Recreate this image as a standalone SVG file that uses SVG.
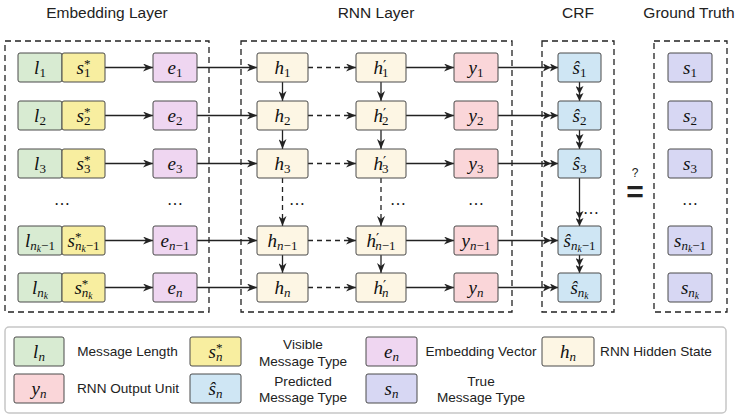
<svg xmlns="http://www.w3.org/2000/svg" width="738" height="415" viewBox="0 0 738 415">
  <style>
    .title { font-family: "Liberation Sans", Arial, sans-serif; font-size: 15.5px; fill: #222; text-anchor: middle; }
    .lg { font-family: "Liberation Sans", Arial, sans-serif; font-size: 13.6px; fill: #222; text-anchor: middle; }
    .frame { fill: none; stroke: #222; stroke-width: 1.3; stroke-dasharray: 6 4; }
    .box { stroke: #4a4a4a; stroke-width: 1; }
    .g { fill: #d8ebd2; } .yl { fill: #f8eea0; } .pu { fill: #efd6f1; } .cr { fill: #fdf6e4; }
    .pk { fill: #fad6d9; } .bl { fill: #cfe6f4; } .lv { fill: #d7d7f3; }
    .m { font-family: "Liberation Serif", "Times New Roman", serif; font-style: italic; font-size: 19px; fill: #111; text-anchor: middle; }
    .s { font-style: normal; font-size: 13px; }
    .si { font-style: italic; font-size: 13px; }
    .ss { font-style: italic; font-size: 9.5px; }
    .pr { font-family: "DejaVu Serif", serif; font-style: normal; font-size: 14px; }
    .dots { font-family: "Liberation Serif", serif; font-size: 16px; fill: #111; text-anchor: middle; }
    .ln { stroke: #222; stroke-width: 1.3; fill: none; }
    .dash { stroke-dasharray: 5 4; }
  </style>
  <defs>
    <marker id="ah" viewBox="0 0 10 8" refX="10" refY="4" markerWidth="10" markerHeight="8" markerUnits="userSpaceOnUse" orient="auto">
      <path d="M0,0 L10,4 L0,8 L3,4 Z" fill="#222"/>
    </marker>
    <marker id="ah2" viewBox="0 0 15 8" refX="15" refY="4" markerWidth="15" markerHeight="8" markerUnits="userSpaceOnUse" orient="auto">
      <path d="M0,0 L8,4 L0,8 L2,4 Z M7,0 L15,4 L7,8 L9,4 Z" fill="#222"/>
    </marker>
  </defs>

  <rect width="738" height="415" fill="#fff"/>

  <!-- column titles -->
  <text class="title" x="107" y="18">Embedding Layer</text>
  <text class="title" x="376" y="18">RNN Layer</text>
  <text class="title" x="578" y="18">CRF</text>
  <text class="title" x="689" y="18">Ground Truth</text>

  <!-- layer frames -->
  <g id="frames">
    <rect class="frame" x="5" y="41" width="204" height="271"/>
    <rect class="frame" x="241" y="41" width="271" height="271"/>
    <rect class="frame" x="542" y="41" width="72" height="271"/>
    <rect class="frame" x="654" y="41" width="73" height="271"/>
  </g>

  <!-- connectors -->
  <g id="connectors">
    <!-- horizontal flow per row -->
    <g>
      <line class="ln" x1="105" y1="67.5" x2="153" y2="67.5" marker-end="url(#ah)"/>
      <line class="ln" x1="105" y1="115.5" x2="153" y2="115.5" marker-end="url(#ah)"/>
      <line class="ln" x1="105" y1="163.5" x2="153" y2="163.5" marker-end="url(#ah)"/>
      <line class="ln" x1="105" y1="240.5" x2="153" y2="240.5" marker-end="url(#ah)"/>
      <line class="ln" x1="105" y1="287.5" x2="153" y2="287.5" marker-end="url(#ah)"/>

      <line class="ln" x1="197" y1="67.5" x2="257" y2="67.5" marker-end="url(#ah)"/>
      <line class="ln" x1="197" y1="115.5" x2="257" y2="115.5" marker-end="url(#ah)"/>
      <line class="ln" x1="197" y1="163.5" x2="257" y2="163.5" marker-end="url(#ah)"/>
      <line class="ln" x1="197" y1="240.5" x2="257" y2="240.5" marker-end="url(#ah)"/>
      <line class="ln" x1="197" y1="287.5" x2="257" y2="287.5" marker-end="url(#ah)"/>

      <line class="ln dash" x1="308" y1="67.5" x2="356" y2="67.5" marker-end="url(#ah)"/>
      <line class="ln dash" x1="308" y1="115.5" x2="356" y2="115.5" marker-end="url(#ah)"/>
      <line class="ln dash" x1="308" y1="163.5" x2="356" y2="163.5" marker-end="url(#ah)"/>
      <line class="ln dash" x1="308" y1="240.5" x2="356" y2="240.5" marker-end="url(#ah)"/>
      <line class="ln dash" x1="308" y1="287.5" x2="356" y2="287.5" marker-end="url(#ah)"/>

      <line class="ln" x1="406" y1="67.5" x2="454" y2="67.5" marker-end="url(#ah)"/>
      <line class="ln" x1="406" y1="115.5" x2="454" y2="115.5" marker-end="url(#ah)"/>
      <line class="ln" x1="406" y1="163.5" x2="454" y2="163.5" marker-end="url(#ah)"/>
      <line class="ln" x1="406" y1="240.5" x2="454" y2="240.5" marker-end="url(#ah)"/>
      <line class="ln" x1="406" y1="287.5" x2="454" y2="287.5" marker-end="url(#ah)"/>

      <line class="ln" x1="498" y1="67.5" x2="558" y2="67.5" marker-end="url(#ah2)"/>
      <line class="ln" x1="498" y1="115.5" x2="558" y2="115.5" marker-end="url(#ah2)"/>
      <line class="ln" x1="498" y1="163.5" x2="558" y2="163.5" marker-end="url(#ah2)"/>
      <line class="ln" x1="498" y1="240.5" x2="558" y2="240.5" marker-end="url(#ah2)"/>
      <line class="ln" x1="498" y1="287.5" x2="558" y2="287.5" marker-end="url(#ah2)"/>
    </g>
    <!-- vertical recurrences -->
    <g>
      <line class="ln" x1="282.5" y1="82" x2="282.5" y2="101" marker-end="url(#ah)"/>
      <line class="ln" x1="282.5" y1="130" x2="282.5" y2="149" marker-end="url(#ah)"/>
      <line class="ln dash" x1="282.5" y1="178" x2="282.5" y2="226" marker-end="url(#ah)"/>
      <line class="ln" x1="282.5" y1="255" x2="282.5" y2="273" marker-end="url(#ah)"/>

      <line class="ln" x1="381" y1="82" x2="381" y2="101" marker-end="url(#ah)"/>
      <line class="ln" x1="381" y1="130" x2="381" y2="149" marker-end="url(#ah)"/>
      <line class="ln dash" x1="381" y1="178" x2="381" y2="226" marker-end="url(#ah)"/>
      <line class="ln" x1="381" y1="255" x2="381" y2="273" marker-end="url(#ah)"/>

      <line class="ln" x1="579.5" y1="82" x2="579.5" y2="101" marker-end="url(#ah2)"/>
      <line class="ln" x1="579.5" y1="130" x2="579.5" y2="149" marker-end="url(#ah2)"/>
      <line class="ln" x1="579.5" y1="178" x2="579.5" y2="226" marker-end="url(#ah2)"/>
      <line class="ln" x1="579.5" y1="255" x2="579.5" y2="273" marker-end="url(#ah2)"/>
    </g>
  </g>

  <!-- embedding layer nodes -->
  <g id="l1"><rect class="box g" x="18" y="53" width="44" height="29" rx="2"/><text class="m" x="40" y="74">l<tspan class="s" dy="3">1</tspan></text></g>
  <g id="s1star"><rect class="box yl" x="62" y="53" width="43" height="29" rx="2"/><text class="m" x="83.5" y="74">s<tspan class="s" dy="-6">*</tspan><tspan class="s" dx="-6.5" dy="9">1</tspan></text></g>
  <g id="l2"><rect class="box g" x="18" y="101" width="44" height="29" rx="2"/><text class="m" x="40" y="122">l<tspan class="s" dy="3">2</tspan></text></g>
  <g id="s2star"><rect class="box yl" x="62" y="101" width="43" height="29" rx="2"/><text class="m" x="83.5" y="122">s<tspan class="s" dy="-6">*</tspan><tspan class="s" dx="-6.5" dy="9">2</tspan></text></g>
  <g id="l3"><rect class="box g" x="18" y="149" width="44" height="29" rx="2"/><text class="m" x="40" y="170">l<tspan class="s" dy="3">3</tspan></text></g>
  <g id="s3star"><rect class="box yl" x="62" y="149" width="43" height="29" rx="2"/><text class="m" x="83.5" y="170">s<tspan class="s" dy="-6">*</tspan><tspan class="s" dx="-6.5" dy="9">3</tspan></text></g>
  <g id="lnk1"><rect class="box g" x="18" y="226" width="44" height="29" rx="2"/><text class="m" x="40" y="247">l<tspan class="si" dy="3">n</tspan><tspan class="ss" dy="2">k</tspan><tspan class="s" dy="-2">−1</tspan></text></g>
  <g id="snk1star"><rect class="box yl" x="62" y="226" width="43" height="29" rx="2"/><text class="m" x="83.5" y="247">s<tspan class="s" dy="-6">*</tspan><tspan class="si" dx="-6.5" dy="9">n</tspan><tspan class="ss" dy="2">k</tspan><tspan class="s" dy="-2">−1</tspan></text></g>
  <g id="lnk"><rect class="box g" x="18" y="273" width="44" height="29" rx="2"/><text class="m" x="40" y="294">l<tspan class="si" dy="3">n</tspan><tspan class="ss" dy="2">k</tspan></text></g>
  <g id="snkstar"><rect class="box yl" x="62" y="273" width="43" height="29" rx="2"/><text class="m" x="83.5" y="294">s<tspan class="s" dy="-6">*</tspan><tspan class="si" dx="-6.5" dy="9">n</tspan><tspan class="ss" dy="2">k</tspan></text></g>

  <g id="e1"><rect class="box pu" x="153" y="53" width="44" height="29" rx="2"/><text class="m" x="175" y="74">e<tspan class="s" dy="3">1</tspan></text></g>
  <g id="e2"><rect class="box pu" x="153" y="101" width="44" height="29" rx="2"/><text class="m" x="175" y="122">e<tspan class="s" dy="3">2</tspan></text></g>
  <g id="e3"><rect class="box pu" x="153" y="149" width="44" height="29" rx="2"/><text class="m" x="175" y="170">e<tspan class="s" dy="3">3</tspan></text></g>
  <g id="en1"><rect class="box pu" x="153" y="226" width="44" height="29" rx="2"/><text class="m" x="175" y="247">e<tspan class="si" dy="3">n</tspan><tspan class="s">−1</tspan></text></g>
  <g id="en"><rect class="box pu" x="153" y="273" width="44" height="29" rx="2"/><text class="m" x="175" y="294">e<tspan class="si" dy="3">n</tspan></text></g>

  <!-- RNN layer nodes -->
  <g id="h1"><rect class="box cr" x="257" y="53" width="51" height="29" rx="2"/><text class="m" x="282.5" y="74">h<tspan class="s" dy="3">1</tspan></text></g>
  <g id="h2"><rect class="box cr" x="257" y="101" width="51" height="29" rx="2"/><text class="m" x="282.5" y="122">h<tspan class="s" dy="3">2</tspan></text></g>
  <g id="h3"><rect class="box cr" x="257" y="149" width="51" height="29" rx="2"/><text class="m" x="282.5" y="170">h<tspan class="s" dy="3">3</tspan></text></g>
  <g id="hn1"><rect class="box cr" x="257" y="226" width="51" height="29" rx="2"/><text class="m" x="282.5" y="247">h<tspan class="si" dy="3">n</tspan><tspan class="s">−1</tspan></text></g>
  <g id="hn"><rect class="box cr" x="257" y="273" width="51" height="29" rx="2"/><text class="m" x="282.5" y="294">h<tspan class="si" dy="3">n</tspan></text></g>

  <g id="hp1"><rect class="box cr" x="356" y="53" width="50" height="29" rx="2"/><text class="m" x="381" y="74">h<tspan class="pr" dy="-3">′</tspan><tspan class="s" dx="-4" dy="6">1</tspan></text></g>
  <g id="hp2"><rect class="box cr" x="356" y="101" width="50" height="29" rx="2"/><text class="m" x="381" y="122">h<tspan class="pr" dy="-3">′</tspan><tspan class="s" dx="-4" dy="6">2</tspan></text></g>
  <g id="hp3"><rect class="box cr" x="356" y="149" width="50" height="29" rx="2"/><text class="m" x="381" y="170">h<tspan class="pr" dy="-3">′</tspan><tspan class="s" dx="-4" dy="6">3</tspan></text></g>
  <g id="hpn1"><rect class="box cr" x="356" y="226" width="50" height="29" rx="2"/><text class="m" x="381" y="247">h<tspan class="pr" dy="-3">′</tspan><tspan class="si" dx="-4" dy="6">n</tspan><tspan class="s">−1</tspan></text></g>
  <g id="hpn"><rect class="box cr" x="356" y="273" width="50" height="29" rx="2"/><text class="m" x="381" y="294">h<tspan class="pr" dy="-3">′</tspan><tspan class="si" dx="-4" dy="6">n</tspan></text></g>

  <g id="y1"><rect class="box pk" x="454" y="53" width="44" height="29" rx="2"/><text class="m" x="476" y="74">y<tspan class="s" dy="3">1</tspan></text></g>
  <g id="y2"><rect class="box pk" x="454" y="101" width="44" height="29" rx="2"/><text class="m" x="476" y="122">y<tspan class="s" dy="3">2</tspan></text></g>
  <g id="y3"><rect class="box pk" x="454" y="149" width="44" height="29" rx="2"/><text class="m" x="476" y="170">y<tspan class="s" dy="3">3</tspan></text></g>
  <g id="yn1"><rect class="box pk" x="454" y="226" width="44" height="29" rx="2"/><text class="m" x="476" y="247">y<tspan class="si" dy="3">n</tspan><tspan class="s">−1</tspan></text></g>
  <g id="yn"><rect class="box pk" x="454" y="273" width="44" height="29" rx="2"/><text class="m" x="476" y="294">y<tspan class="si" dy="3">n</tspan></text></g>

  <!-- CRF nodes -->
  <g id="shat1"><rect class="box bl" x="558" y="53" width="43" height="29" rx="2"/><text class="m" x="579.5" y="74">ŝ<tspan class="s" dy="3">1</tspan></text></g>
  <g id="shat2"><rect class="box bl" x="558" y="101" width="43" height="29" rx="2"/><text class="m" x="579.5" y="122">ŝ<tspan class="s" dy="3">2</tspan></text></g>
  <g id="shat3"><rect class="box bl" x="558" y="149" width="43" height="29" rx="2"/><text class="m" x="579.5" y="170">ŝ<tspan class="s" dy="3">3</tspan></text></g>
  <g id="shatnk1"><rect class="box bl" x="558" y="226" width="43" height="29" rx="2"/><text class="m" x="579.5" y="247">ŝ<tspan class="si" dy="3">n</tspan><tspan class="ss" dy="2">k</tspan><tspan class="s" dy="-2">−1</tspan></text></g>
  <g id="shatnk"><rect class="box bl" x="558" y="273" width="43" height="29" rx="2"/><text class="m" x="579.5" y="294">ŝ<tspan class="si" dy="3">n</tspan><tspan class="ss" dy="2">k</tspan></text></g>

  <!-- ground truth nodes -->
  <g id="s1"><rect class="box lv" x="668" y="53" width="44" height="29" rx="2"/><text class="m" x="690" y="74">s<tspan class="s" dy="3">1</tspan></text></g>
  <g id="s2"><rect class="box lv" x="668" y="101" width="44" height="29" rx="2"/><text class="m" x="690" y="122">s<tspan class="s" dy="3">2</tspan></text></g>
  <g id="s3"><rect class="box lv" x="668" y="149" width="44" height="29" rx="2"/><text class="m" x="690" y="170">s<tspan class="s" dy="3">3</tspan></text></g>
  <g id="snk1"><rect class="box lv" x="668" y="226" width="44" height="29" rx="2"/><text class="m" x="690" y="247">s<tspan class="si" dy="3">n</tspan><tspan class="ss" dy="2">k</tspan><tspan class="s" dy="-2">−1</tspan></text></g>
  <g id="snk"><rect class="box lv" x="668" y="273" width="44" height="29" rx="2"/><text class="m" x="690" y="294">s<tspan class="si" dy="3">n</tspan><tspan class="ss" dy="2">k</tspan></text></g>

  <!-- ellipses for omitted rows -->
  <g id="ellipses">
    <text class="dots" x="62" y="205">…</text>
    <text class="dots" x="175" y="205">…</text>
    <text class="dots" x="297" y="205">…</text>
    <text class="dots" x="398" y="205">…</text>
    <text class="dots" x="476" y="205">…</text>
    <text class="dots" x="591" y="214">…</text>
    <text class="dots" x="690" y="205">…</text>
  </g>

  <!-- comparison sign -->
  <g id="compare">
    <text x="635" y="177" style="font-family: 'Liberation Sans', sans-serif; font-size: 12px; fill: #222; text-anchor: middle;">?</text>
    <text x="635" y="201.5" style="font-family: 'Liberation Sans', sans-serif; font-size: 30px; font-weight: bold; fill: #222; text-anchor: middle;">=</text>
  </g>

  <!-- legend -->
  <g id="legend">
    <rect x="5" y="327" width="721" height="86" rx="4" fill="#fff" stroke="#c6c6c6" stroke-width="1.5"/>
    <g id="lg-l"><rect class="box g" x="14" y="337" width="50" height="29" rx="2"/><text class="m" x="39" y="358">l<tspan class="si" dy="3">n</tspan></text></g>
    <text class="lg" x="127.5" y="356">Message Length</text>
    <g id="lg-sstar"><rect class="box yl" x="190" y="337" width="51" height="29" rx="2"/><text class="m" x="215.5" y="358">s<tspan class="s" dy="-6">*</tspan><tspan class="si" dx="-6.5" dy="9">n</tspan></text></g>
    <text class="lg" x="303" y="349">Visible</text>
    <text class="lg" x="303" y="366">Message Type</text>
    <g id="lg-e"><rect class="box pu" x="366" y="337" width="51" height="29" rx="2"/><text class="m" x="391.5" y="358">e<tspan class="si" dy="3">n</tspan></text></g>
    <text class="lg" x="481" y="356">Embedding Vector</text>
    <g id="lg-h"><rect class="box cr" x="542" y="337" width="52" height="29" rx="2"/><text class="m" x="568" y="358">h<tspan class="si" dy="3">n</tspan></text></g>
    <text class="lg" x="656" y="356">RNN Hidden State</text>

    <g id="lg-y"><rect class="box pk" x="14" y="374" width="50" height="29" rx="2"/><text class="m" x="39" y="395">y<tspan class="si" dy="3">n</tspan></text></g>
    <text class="lg" x="128" y="393">RNN Output Unit</text>
    <g id="lg-shat"><rect class="box bl" x="190" y="374" width="51" height="29" rx="2"/><text class="m" x="215.5" y="395">ŝ<tspan class="si" dy="3">n</tspan></text></g>
    <text class="lg" x="303" y="385.5">Predicted</text>
    <text class="lg" x="303" y="402">Message Type</text>
    <g id="lg-s"><rect class="box lv" x="366" y="374" width="51" height="29" rx="2"/><text class="m" x="391.5" y="395">s<tspan class="si" dy="3">n</tspan></text></g>
    <text class="lg" x="481" y="385.5">True</text>
    <text class="lg" x="481" y="402">Message Type</text>
  </g>
</svg>
